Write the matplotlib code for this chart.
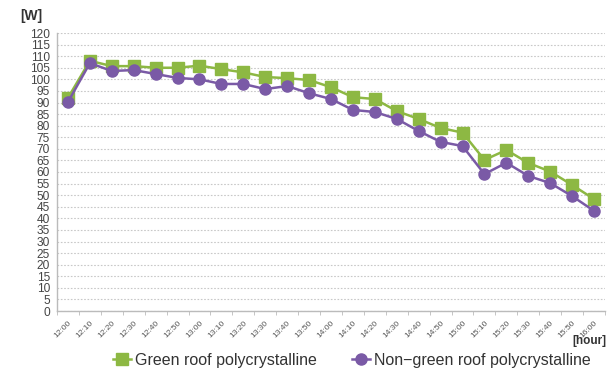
import matplotlib
matplotlib.use("Agg")
import matplotlib.pyplot as plt
import numpy as np

times = ["12:00","12:10","12:20","12:30","12:40","12:50","13:00","13:10","13:20","13:30",
         "13:40","13:50","14:00","14:10","14:20","14:30","14:40","14:50","15:00","15:10",
         "15:20","15:30","15:40","15:50","16:00"]
green = [92, 108, 105.7, 105.7, 105, 105, 105.9, 104.4, 103, 101,
         100.5, 99.7, 96.6, 92.3, 91.5, 86.3, 82.9, 79, 77, 65.2,
         69.5, 63.9, 60.2, 54.4, 48.3]
purple = [90.2, 107, 103.6, 104, 102.3, 100.6, 100, 98, 98, 95.8,
          97.1, 94, 91.5, 86.8, 85.9, 82.9, 77.7, 73, 71.2, 59.1,
          64, 58.3, 55.2, 49.6, 43.2]
yticks = list(range(0, 121, 5))

plt.rcParams['font.family'] = ['Liberation Sans', 'DejaVu Sans']

fig = plt.figure(figsize=(6.12, 3.70), dpi=100)
ax = fig.add_axes([57/612, 1-311/370, 548/612, (311-33)/370])

x = np.arange(len(times))
gcol = '#8db843'
pcol = '#7a5aa6'
ax.plot(x, green, color=gcol, lw=1.8, marker='s', ms=8.5, label='Green roof polycrystalline', zorder=3)
ax.plot(x, purple, color=pcol, lw=1.8, marker='o', ms=8, label='Non\u2212green roof polycrystalline', zorder=4)

ax.set_xlim(-0.5, len(times)-0.5)
ax.set_ylim(0, 120)
ax.set_yticks(yticks)
ax.set_yticklabels([str(v) for v in yticks], fontsize=8.6, color='#444444')
ax.tick_params(axis='y', length=0, pad=5)
ax.yaxis.grid(True, linestyle=(0, (1.5, 1.5)), color='#c8c8c8', lw=0.8)
ax.set_axisbelow(True)

ax.set_xticks(x)
ax.set_xticklabels(times, rotation=45, fontsize=6, color='#555555', ha='right', rotation_mode='anchor')
ax.tick_params(axis='x', length=0, pad=6)
ax.set_xticks(np.arange(-0.5, len(times), 1), minor=True)
ax.tick_params(axis='x', which='minor', length=3, color='#bbbbbb', direction='out')

for s in ['top', 'right']:
    ax.spines[s].set_visible(False)
for s in ['left', 'bottom']:
    ax.spines[s].set_color('#bbbbbb')
    ax.spines[s].set_linewidth(1.0)

fig.text(20/612, 1-16/370, '[W]', fontsize=10, fontweight='bold', color='#333333', va='center', ha='left')
fig.text(606/612, 1-341/370, '[hour]', fontsize=8.5, fontweight='bold', color='#333333', va='center', ha='right')

leg = fig.legend(loc='center', bbox_to_anchor=(0.575, 1-360/370), ncol=2, frameon=False,
                 prop={'size': 11.5},
                 handlelength=1.1, handletextpad=0.25, columnspacing=2.2, labelcolor='#333333')

fig.savefig('out.png', dpi=100)
